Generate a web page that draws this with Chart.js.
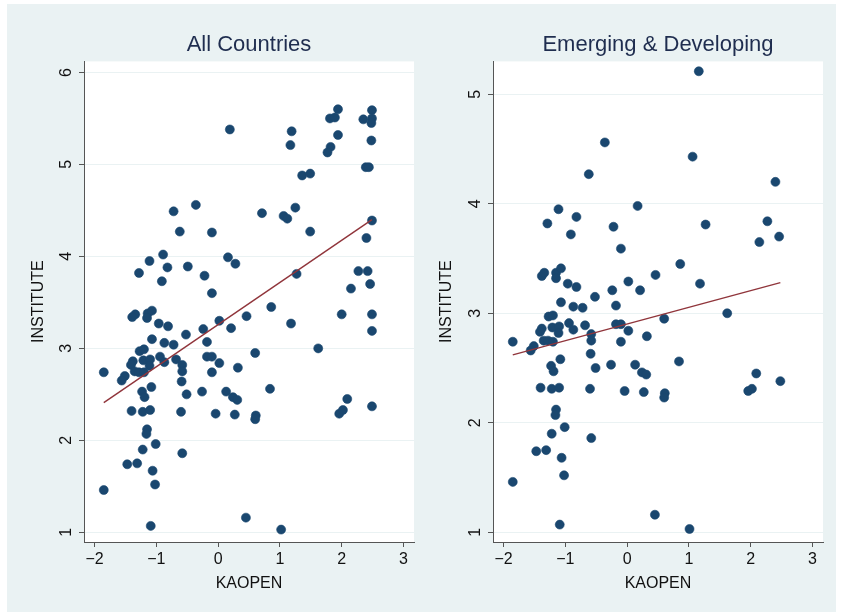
<!DOCTYPE html>
<html>
<head>
<meta charset="utf-8">
<script src="https://cdn.jsdelivr.net/npm/chart.js@4"></script>
<style>
  html, body { margin: 0; padding: 0; background: #fff; }
  #frame { position: absolute; left: 7px; top: 4px; width: 829px; height: 608px; background: #eaf2f3; }
  .panel { position: absolute; top: 4px; height: 608px; }
  #left  { left: 7px;   width: 413px; }
  #right { left: 420px; width: 416px; }
</style>
</head>
<body>
<div id="frame"></div>
<div class="panel" id="left"><canvas id="cAll"></canvas></div>
<div class="panel" id="right"><canvas id="cEm"></canvas></div>
<script>
// ─── DATA ─────────────────────────────────────────────────────────────────
const xTicks = [-2, -1, 0, 1, 2, 3];
const yTicksAll = [1, 2, 3, 4, 5, 6];
const yTicksEm = [1, 2, 3, 4, 5];

// All countries: KAOPEN (x) vs INSTITUTE (y)
const allX = [
  0.19, -0.36, -0.72, -0.62, -0.10, -0.89, -1.11, -0.82, -0.49, -1.28, -0.91, -0.22, 0.16, 0.28, -0.10,
  1.94, 1.81, 1.89, 2.49, 2.35, 2.49, 2.48, 1.19, 1.17, 1.94, 2.48, 1.82, 1.77, 2.39, 2.44,
  1.36, 1.49, 0.71, 1.06, 1.12, 1.25, 1.49, 2.49, 2.40, 1.27, 2.27, 2.42, 2.46, 2.15,
  -1.34, -1.39, -1.14, -1.07, -1.15, -0.96, -0.81, -0.52, -0.24, 0.02, 0.21, 0.46,
  -1.07, -0.87, -0.72, -0.18, -1.27, -1.20, -0.94, -0.87, -0.68, -0.18, -0.10, 0.02, 0.32,
  -1.38, -1.41, -1.21, -1.10, -1.11, -1.35, -1.28, -1.20, -1.85, -1.51, -1.56,
  -0.58, -0.58, -0.59, -0.10, -1.23, -1.19, -1.08, -0.51, -0.26, 0.13, 0.24, 0.31,
  -1.40, -1.22, -1.10, -0.60, -0.04, 0.27, -1.15, -1.16, -1.01, -1.22, -0.58,
  -1.47, -1.31, -1.06, -1.02, -1.85, -1.09, 0.45,
  0.86, 2.00, 2.49, 1.18, 2.49, 1.62, 0.60, 0.84, 2.09, 2.49, 0.61, 0.60, 1.96, 2.02, 1.02
];
const allY = [
  5.38, 4.56, 4.49, 4.27, 4.26, 4.02, 3.95, 3.88, 3.89, 3.82, 3.73, 3.79, 3.99, 3.92, 3.60,
  5.60, 5.50, 5.51, 5.59, 5.49, 5.50, 5.45, 5.36, 5.21, 5.32, 5.26, 5.19, 5.13, 4.97, 4.97,
  4.88, 4.90, 4.47, 4.44, 4.41, 4.53, 4.27, 4.39, 4.20, 3.81, 3.84, 3.84, 3.70, 3.65,
  3.37, 3.34, 3.38, 3.41, 3.33, 3.27, 3.24, 3.15, 3.21, 3.30, 3.22, 3.35,
  3.10, 3.06, 3.04, 3.07, 2.97, 2.99, 2.91, 2.85, 2.88, 2.91, 2.91, 2.84, 2.79,
  2.86, 2.82, 2.87, 2.88, 2.81, 2.75, 2.74, 2.74, 2.74, 2.70, 2.65,
  2.82, 2.75, 2.64, 2.74, 2.53, 2.47, 2.58, 2.50, 2.53, 2.53, 2.47, 2.44,
  2.32, 2.31, 2.33, 2.31, 2.29, 2.28, 2.12, 2.07, 1.96, 1.90, 1.86,
  1.74, 1.75, 1.67, 1.52, 1.46, 1.07, 1.16,
  3.45, 3.37, 3.37, 3.27, 3.19, 3.00, 2.95, 2.56, 2.45, 2.37, 2.27, 2.23, 2.29, 2.33, 1.03
];
const allFitX = [-1.85, 2.49];
const allFitY = [2.41, 4.40];

// Emerging & developing
const emX = [
  -0.36, -0.62, -1.11, 0.17, -0.82, -1.29, -0.22, -0.91, -0.10,
  -1.38, -1.34, -1.15, -1.07, -1.15, -0.96, -0.82, -0.52, -0.24, 0.02, 0.21, 0.46,
  1.16, 1.06, 2.40, 1.27, 2.27, 2.46, 2.14, 0.86, 1.18,
  -1.07, -0.87, -0.72, -0.18, -1.27, -1.20, -0.94, -0.87, -0.68, -0.18, -0.10, 0.02, 0.32,
  -1.38, -1.41, -1.21, -1.10, -1.11, -1.35, -1.28, -1.20, -1.85, -1.51, -1.56,
  -0.58, -0.58, -0.59, -0.10, -1.23, -1.19, -1.08, -0.51, -0.26, 0.13, 0.24, 0.31,
  -1.40, -1.22, -1.10, -0.60, -0.04, 0.27, -1.15, -1.16, -1.01, -1.22, -0.58,
  -1.47, -1.31, -1.06, -1.02, -1.85, -1.09, 0.45,
  1.62, 0.60, 0.84, 2.09, 2.48, 0.61, 0.60, 1.96, 2.02, 1.01
];
const emY = [
  4.56, 4.27, 3.95, 3.98, 3.88, 3.82, 3.79, 3.72, 3.59,
  3.34, 3.37, 3.37, 3.41, 3.32, 3.27, 3.24, 3.15, 3.21, 3.29, 3.21, 3.35,
  5.21, 4.43, 4.20, 3.81, 3.84, 3.70, 3.65, 3.45, 3.27,
  3.10, 3.06, 3.05, 3.07, 2.97, 2.98, 2.91, 2.85, 2.89, 2.90, 2.90, 2.84, 2.79,
  2.86, 2.83, 2.87, 2.88, 2.82, 2.75, 2.75, 2.74, 2.74, 2.70, 2.66,
  2.81, 2.75, 2.63, 2.74, 2.52, 2.47, 2.58, 2.50, 2.53, 2.53, 2.46, 2.44,
  2.32, 2.31, 2.32, 2.31, 2.29, 2.28, 2.12, 2.07, 1.96, 1.90, 1.86,
  1.74, 1.75, 1.68, 1.52, 1.46, 1.07, 1.16,
  3.00, 2.95, 2.56, 2.45, 2.38, 2.27, 2.23, 2.29, 2.31, 1.03
];
const emFitX = [-1.85, 2.48];
const emFitY = [2.62, 3.28];

// ─── HELPERS ──────────────────────────────────────────────────────────────
const FONT = '"Liberation Sans", Arial, Helvetica, sans-serif';
const NAVY = '#1a476f';
const MAROON = '#90353b';
const AXIS = '#555555';

const plotBg = {
  id: 'plotBg',
  beforeDraw(chart) {
    const a = chart.chartArea, ctx = chart.ctx;
    ctx.save();
    ctx.fillStyle = '#ffffff';
    ctx.fillRect(a.left, a.top, a.right - a.left, a.bottom - a.top);
    ctx.restore();
  }
};

function pts(xs, ys) { return xs.map((x, i) => ({ x, y: ys[i] })); }
function minus(v) { return String(v).replace('-', '\u2212'); }

function makeChart(id, title, xs, ys, fx, fy, yTicks, yMin, yMax, yAxisW, yTitlePad, padRight) {
  return new Chart(document.getElementById(id), {
    type: 'scatter',
    data: {
      datasets: [
        { data: pts(fx, fy), showLine: true, borderColor: MAROON, borderWidth: 1.4, pointRadius: 0 },
        { data: pts(xs, ys), pointRadius: 4.5, pointBorderWidth: 0.6,
          backgroundColor: NAVY, borderColor: NAVY },
      ],
    },
    options: {
      responsive: true,
      maintainAspectRatio: false,
      animation: false,
      layout: { padding: { left: 0, right: padRight, top: 0, bottom: 0 } },
      plugins: {
        legend: { display: false },
        tooltip: { enabled: false },
        title: {
          display: true, text: title, color: '#1f2d4f', fullSize: false,
          font: { family: FONT, size: 22, weight: 'normal' },
          padding: { top: 28, bottom: 3 },
        },
      },
      scales: {
        x: {
          type: 'linear', min: -2.17, max: 3.17,
          afterBuildTicks: s => { s.ticks = xTicks.map(v => ({ value: v })); },
          afterFit: s => { s.height = 70; },
          grid: { drawOnChartArea: false, drawTicks: true, tickLength: 5, tickColor: AXIS },
          border: { display: true, color: AXIS, width: 1 },
          ticks: { color: '#111', font: { family: FONT, size: 16 }, padding: 3, callback: minus,
                   maxRotation: 0, minRotation: 0 },
          title: { display: true, text: 'KAOPEN', color: '#111',
                   font: { family: FONT, size: 16 }, padding: { top: 0, bottom: 19 } },
        },
        y: {
          type: 'linear', min: yMin, max: yMax,
          afterBuildTicks: s => { s.ticks = yTicks.map(v => ({ value: v })); },
          afterFit: s => { s.width = yAxisW; },
          grid: { color: '#eaf2f3', lineWidth: 1, drawTicks: true, tickLength: 5, tickColor: AXIS },
          border: { display: true, color: AXIS, width: 1 },
          ticks: { color: '#111', font: { family: FONT, size: 16 }, padding: 8,
                   minRotation: 90, maxRotation: 90, crossAlign: 'center', callback: minus },
          title: { display: true, text: 'INSTITUTE', color: '#111',
                   font: { family: FONT, size: 16 }, padding: { top: yTitlePad, bottom: 0 } },
        },
      },
    },
    plugins: [plotBg],
  });
}

makeChart('cAll', 'All Countries', allX, allY, allFitX, allFitY, yTicksAll, 0.895, 6.12, 77, 22, 6);
makeChart('cEm', 'Emerging & Developing', emX, emY, emFitX, emFitY, yTicksEm, 0.911, 5.30, 73, 17, 13);
</script>
</body>
</html>
